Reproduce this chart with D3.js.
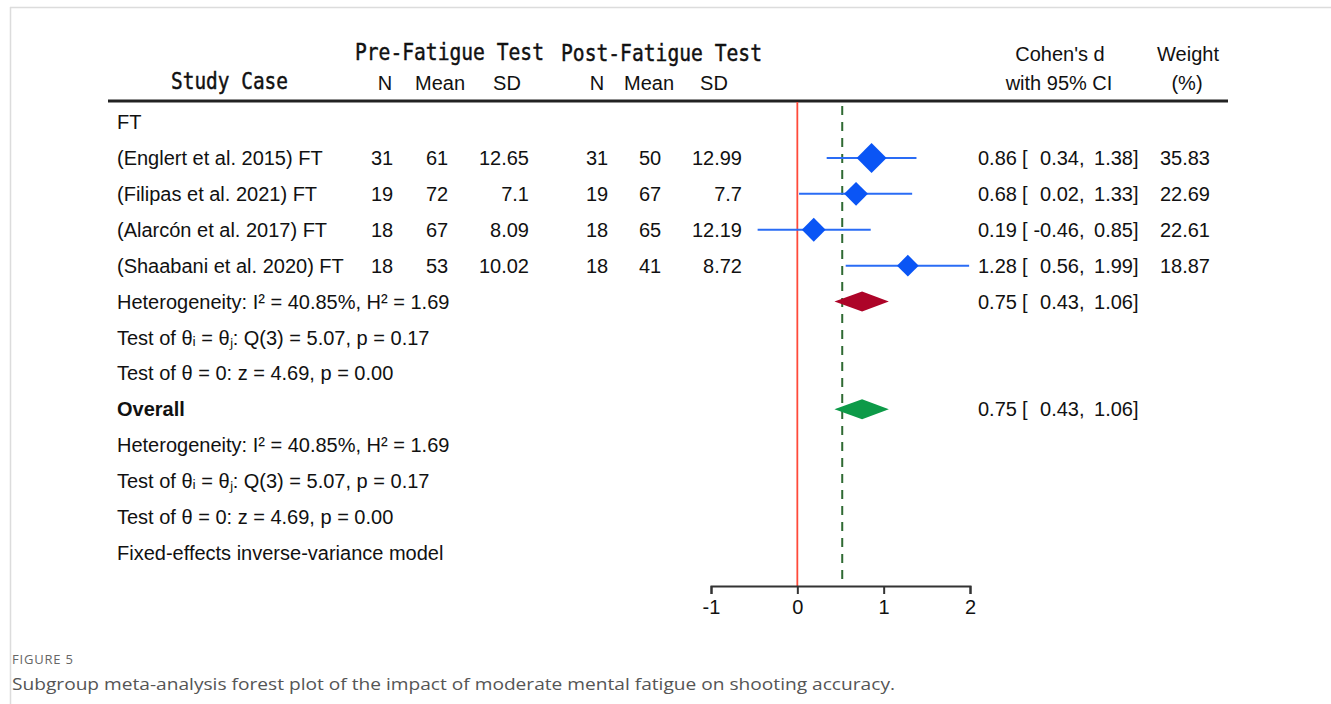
<!DOCTYPE html>
<html><head><meta charset="utf-8">
<script src="https://cdn.jsdelivr.net/npm/d3@7"></script>
<style>
body{margin:0;background:#fff;}
svg{display:block;}
</style></head>
<body>
<svg id="chart" width="1331" height="704"></svg>
<script>
// ---- data ----
const studies = ["(Englert et al. 2015) FT","(Filipas et al. 2021) FT","(Alarcón et al. 2017) FT","(Shaabani et al. 2020) FT"];
const preN = [31,19,18,18];
const preMean = [61,72,67,53];
const preSD = ["12.65","7.1","8.09","10.02"];
const postN = [31,19,18,18];
const postMean = [50,67,65,41];
const postSD = ["12.99","7.7","12.19","8.72"];
const effect = [0.86,0.68,0.19,1.28];
const ciLow = [0.34,0.02,-0.46,0.56];
const ciHigh = [1.38,1.33,0.85,1.99];
const weight = ["35.83","22.69","22.61","18.87"];
const pooled = {d:0.75, lo:0.43, hi:1.06};
const nullLine = 0;
const overallLine = 0.52;
const xTicks = [-1,0,1,2];
const groupLabel = "FT";
const subStats = ["Heterogeneity: I² = 40.85%, H² = 1.69","Test of θᵢ = θⱼ: Q(3) = 5.07, p = 0.17","Test of θ = 0: z = 4.69, p = 0.00"];
const overallStats = ["Heterogeneity: I² = 40.85%, H² = 1.69","Test of θᵢ = θⱼ: Q(3) = 5.07, p = 0.17","Test of θ = 0: z = 4.69, p = 0.00"];
const modelNote = "Fixed-effects inverse-variance model";

const svg = d3.select("#chart");
const body = "'Liberation Sans', Arial, sans-serif";
const gothic = "'DejaVu Sans Mono', monospace";

// frame
svg.append("line").attr("x1",10).attr("x2",1331).attr("y1",7.5).attr("y2",7.5).attr("stroke","#dcdcdc").attr("stroke-width",1.5);
svg.append("line").attr("x1",10.5).attr("x2",10.5).attr("y1",7).attr("y2",704).attr("stroke","#dcdcdc").attr("stroke-width",1.5);

const x = d3.scaleLinear().domain([-1,2]).range([711,970]);
const y = d3.scaleLinear().domain([0,12]).range([122,553]);

function txt(s, xx, yy, opts={}){
  const t = svg.append("text").attr("x",xx).attr("y",yy).text(s)
    .attr("font-family",opts.font||body).attr("font-size",opts.size||20)
    .attr("fill",opts.fill||"#111").attr("text-anchor",opts.anchor||"start")
    .attr("font-weight",opts.weight||"normal");
  if(opts.len){t.attr("textLength",opts.len).attr("lengthAdjust","spacingAndGlyphs");}
  if(opts.heavy){t.attr("stroke","#111").attr("stroke-width",0.45);}
  return t;
}
// header
txt("Pre-Fatigue Test",355,60,{font:gothic,size:23,len:189,heavy:true});
txt("Post-Fatigue Test",561,61,{font:gothic,size:23,len:201,heavy:true});
txt("Study Case",171,89,{font:gothic,size:23,len:117,heavy:true});
txt("N",385,90,{anchor:"middle"});
txt("Mean",440,90,{anchor:"middle"});
txt("SD",507,90,{anchor:"middle"});
txt("N",597,90,{anchor:"middle"});
txt("Mean",649,90,{anchor:"middle"});
txt("SD",714,90,{anchor:"middle"});
txt("Cohen's d",1060,61,{anchor:"middle"});
txt("with 95% CI",1059,90,{anchor:"middle"});
txt("Weight",1188,61,{anchor:"middle"});
txt("(%)",1187,90,{anchor:"middle"});

svg.append("line").attr("x1",108).attr("x2",1228).attr("y1",101).attr("y2",101).attr("stroke","#222").attr("stroke-width",3);

const bl = 7; // baseline offset
txt(groupLabel,117,y(0)+bl);

studies.forEach((s,i)=>{
  const yy = y(i+1)+bl;
  txt(s,117,yy);
  txt(preN[i],382,yy,{anchor:"middle"});
  txt(preMean[i],437,yy,{anchor:"middle"});
  txt(preSD[i],529,yy,{anchor:"end"});
  txt(postN[i],597,yy,{anchor:"middle"});
  txt(postMean[i],650,yy,{anchor:"middle"});
  txt(postSD[i],742,yy,{anchor:"end"});
});
function ciText(d,lo,hi,yy){
  txt(d.toFixed(2),978,yy);
  txt("[",1022,yy);
  txt(lo.toFixed(2),1079,yy,{anchor:"end"});
  txt(",",1079,yy);
  txt(hi.toFixed(2),1133,yy,{anchor:"end"});
  txt("]",1133,yy);
}

subStats.forEach((s,i)=>txt(s,117,y(5+i)+bl));
txt("Overall",117,y(8)+bl,{weight:"bold"});
overallStats.forEach((s,i)=>txt(s,117,y(9+i)+bl));
txt(modelNote,117,y(12)+bl);

// reference lines
const plotTop = 102, axisY = 586;
svg.append("line").attr("x1",x(nullLine)).attr("x2",x(nullLine)).attr("y1",plotTop).attr("y2",axisY)
  .attr("stroke","#ff4a3a").attr("stroke-width",1.8);
svg.append("line").attr("x1",x(overallLine)).attr("x2",x(overallLine)).attr("y1",plotTop+4).attr("y2",axisY)
  .attr("stroke","#2f6a33").attr("stroke-width",2).attr("stroke-dasharray","9,7");

// study markers
studies.forEach((s,i)=>{
  const cy = y(i+1);
  svg.append("line").attr("x1",x(ciLow[i])).attr("x2",x(ciHigh[i])).attr("y1",cy).attr("y2",cy)
    .attr("stroke","#2a6cf5").attr("stroke-width",2);
  const h = 2.5*Math.sqrt(+weight[i]);
  const cx = x(effect[i]);
  svg.append("path").attr("d",`M${cx-h},${cy}L${cx},${cy-h}L${cx+h},${cy}L${cx},${cy+h}Z`).attr("fill","#0a55f5");
  ciText(effect[i],ciLow[i],ciHigh[i],cy+bl);
  txt(weight[i],1210,cy+bl,{anchor:"end"});
});

// pooled diamonds
function pooledDiamond(row,color){
  const cy = y(row), h = 10;
  svg.append("path").attr("d",`M${x(pooled.lo)},${cy}L${x(pooled.d)},${cy-h}L${x(pooled.hi)},${cy}L${x(pooled.d)},${cy+h}Z`).attr("fill",color);
  ciText(pooled.d,pooled.lo,pooled.hi,cy+bl);
}
pooledDiamond(5,"#ad0428");
pooledDiamond(8,"#0d9a48");

// axis
const axis = d3.axisBottom(x).tickValues(xTicks).tickSize(8).tickSizeOuter(8).tickPadding(6).tickFormat(d=>String(d));
const ag = svg.append("g").attr("transform",`translate(0,${axisY})`).call(axis);
ag.selectAll("path,line").attr("stroke","#333").attr("stroke-width",2);
ag.selectAll("text").attr("font-family",body).attr("font-size",20).attr("fill","#111");

// caption
svg.append("text").attr("x",12).attr("y",664).text("FIGURE 5").attr("font-family","'Open Sans', sans-serif")
  .attr("font-size",13).attr("fill","#666").attr("letter-spacing",0.8);
svg.append("text").attr("x",12).attr("y",690).text("Subgroup meta-analysis forest plot of the impact of moderate mental fatigue on shooting accuracy.")
  .attr("font-family","'Open Sans', sans-serif").attr("font-size",17).attr("fill","#555").attr("textLength",883).attr("lengthAdjust","spacingAndGlyphs");
</script>
</body></html>
